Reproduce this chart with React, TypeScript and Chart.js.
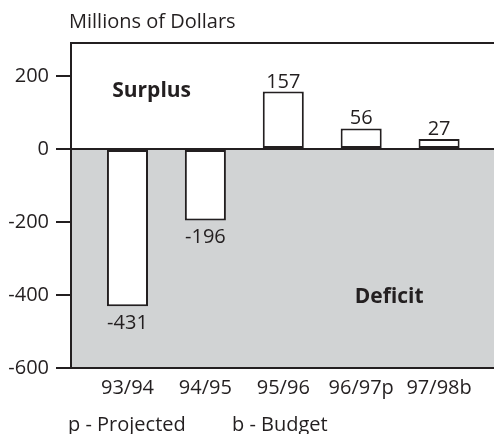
import { useEffect, useRef } from "react";
import { Chart, registerables } from "chart.js";

Chart.register(...registerables);

const categories = ["93/94", "94/95", "95/96", "96/97p", "97/98b"];
const values = [-431, -196, 157, 56, 27];
const yTickValues = [-600, -400, -200, 0, 200];
const yMin = -600;
const yMax = 290;
const xMin = -0.725;
const xMax = 4.705;
const titleText = "Millions of Dollars";
const noteTexts = ["p - Projected", "b - Budget"];
const surplusText = "Surplus";
const deficitText = "Deficit";

const INK = "#231f20";
const GRAY = "#d1d3d4";
const FONT = "'Open Sans'";
const FS = 20;

const decorPlugin = {
  id: "decor",
  beforeDraw(chart: any) {
    const { ctx, chartArea } = chart;
    const y = chart.scales.y;
    const x = chart.scales.x;
    const zero = y.getPixelForValue(0);
    ctx.save();
    ctx.fillStyle = GRAY;
    ctx.fillRect(chartArea.left, zero, chartArea.right - chartArea.left, chartArea.bottom - zero);
    ctx.fillStyle = INK;
    ctx.font = `bold 21px ${FONT}`;
    ctx.textAlign = "center";
    ctx.textBaseline = "alphabetic";
    ctx.fillText(surplusText, x.getPixelForValue(0.31), y.getPixelForValue(143));
    ctx.fillText(deficitText, x.getPixelForValue(3.36), y.getPixelForValue(-422));
    ctx.restore();
  },
  afterDatasetsDraw(chart: any) {
    const { ctx, chartArea } = chart;
    const y = chart.scales.y;
    const zero = y.getPixelForValue(0);
    ctx.save();
    ctx.strokeStyle = INK;
    ctx.lineWidth = 2;
    ctx.beginPath();
    ctx.moveTo(chartArea.left - 15, zero);
    ctx.lineTo(chartArea.right, zero);
    ctx.moveTo(chartArea.left - 1, chartArea.top);
    ctx.lineTo(chartArea.right, chartArea.top);
    ctx.stroke();

    ctx.fillStyle = INK;
    ctx.font = `${FS}px ${FONT}`;
    ctx.textAlign = "center";
    ctx.textBaseline = "alphabetic";
    const meta = chart.getDatasetMeta(0);
    meta.data.forEach((bar: any, i: number) => {
      const v = values[i];
      if (v >= 0) {
        ctx.fillText(String(v), bar.x, bar.y - 4);
      } else {
        ctx.fillText(String(v), bar.x, bar.y + 23);
      }
    });

    ctx.textAlign = "left";
    ctx.fillText(titleText, 69, 28);
    ctx.fillText(noteTexts[0], 68, 431);
    ctx.fillText(noteTexts[1], 232, 431);
    ctx.restore();
  },
};

export default function App() {
  const ref = useRef<HTMLCanvasElement>(null);
  useEffect(() => {
    if (!ref.current) return;
    const chart = new Chart(ref.current, {
      type: "bar",
      data: {
        datasets: [
          {
            data: values.map((v, i) => ({ x: i, y: v })),
            backgroundColor: "#ffffff",
            borderColor: INK,
            borderWidth: 2,
            borderSkipped: false,
            categoryPercentage: 0.527,
            barPercentage: 1,
          },
        ],
      },
      options: {
        responsive: false,
        animation: false,
        devicePixelRatio: 1,
        layout: { padding: { left: 0, top: 43, right: 0, bottom: 0 } },
        plugins: {
          legend: { display: false },
          tooltip: { enabled: false },
          title: { display: false },
        },
        scales: {
          x: {
            type: "linear",
            offset: false,
            min: xMin,
            max: xMax,
            afterBuildTicks: (s: any) => {
              s.ticks = categories.map((_, i) => ({ value: i }));
            },
            afterFit: (s: any) => {
              s.height = 66;
            },
            grid: { display: false },
            border: { display: true, color: INK, width: 2 },
            ticks: {
              autoSkip: false,
              maxRotation: 0,
              padding: 0,
              color: INK,
              font: { family: FONT, size: FS },
              callback: (v: any) => categories[v as number] ?? "",
            },
          },
          y: {
            type: "linear",
            min: yMin,
            max: yMax,
            afterBuildTicks: (s: any) => {
              s.ticks = yTickValues.map((v) => ({ value: v }));
            },
            afterFit: (s: any) => {
              s.width = 71;
            },
            grid: {
              drawOnChartArea: false,
              drawTicks: true,
              tickLength: 15,
              color: INK,
              lineWidth: 2,
            },
            border: { display: true, color: INK, width: 2 },
            ticks: {
              padding: 7,
              color: INK,
              font: { family: FONT, size: FS },
            },
          },
        },
      },
      plugins: [decorPlugin],
    } as any);
    return () => chart.destroy();
  }, []);
  return (
    <div style={{ position: "fixed", left: 0, top: 0, width: 494, height: 434, background: "#fff" }}>
      <canvas ref={ref} width={494} height={434} style={{ display: "block" }} />
    </div>
  );
}
